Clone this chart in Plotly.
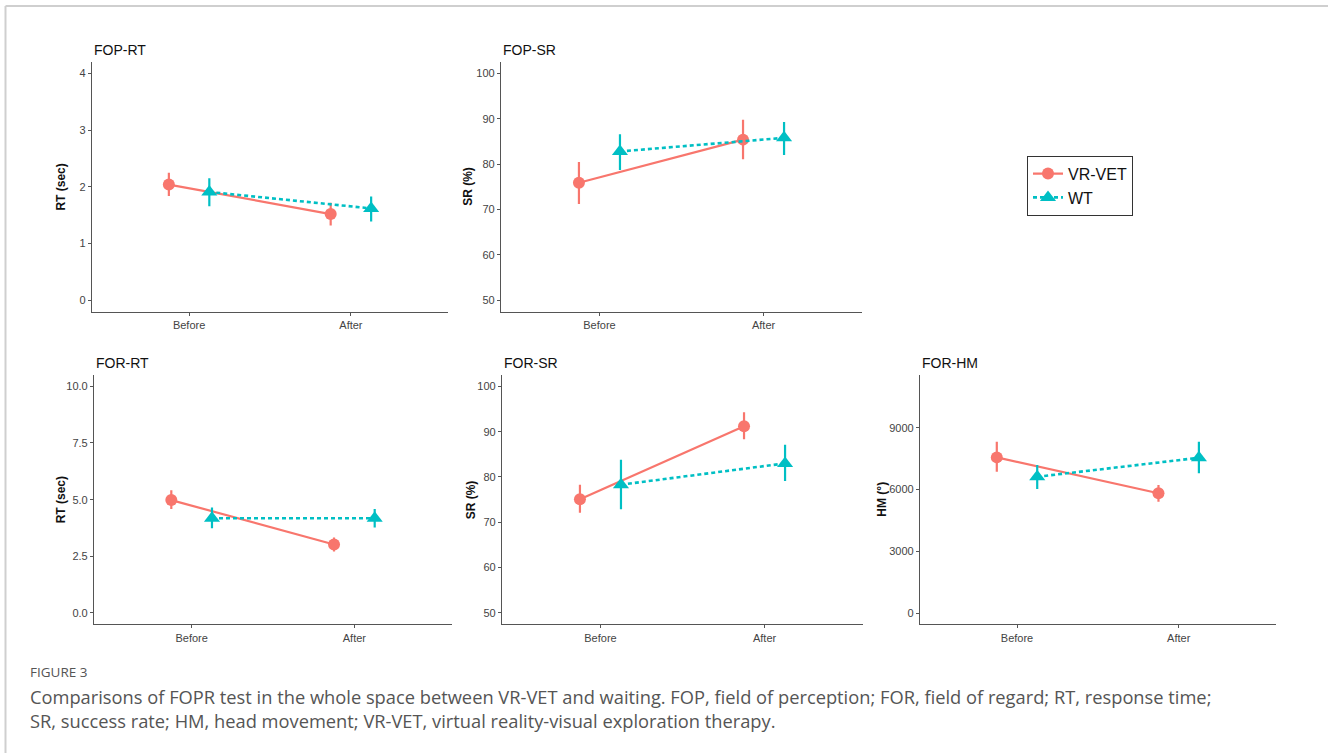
import plotly.graph_objects as go

W, H = 1328, 753

categories = ["Before", "After"]
groups = ["VR-VET", "WT"]
panel_titles = ["FOP-RT", "FOP-SR", "FOR-RT", "FOR-SR", "FOR-HM"]
y_titles = ["RT (sec)", "SR (%)", "RT (sec)", "SR (%)", "HM (°)"]

# FOP-RT
fop_rt_vr = [2.04, 1.52]
fop_rt_vr_hi = [2.25, 1.72]
fop_rt_vr_lo = [1.84, 1.32]
fop_rt_wt = [1.91, 1.62]
fop_rt_wt_hi = [2.15, 1.83]
fop_rt_wt_lo = [1.66, 1.39]
# FOP-SR
fop_sr_vr = [75.9, 85.4]
fop_sr_vr_hi = [80.5, 89.8]
fop_sr_vr_lo = [71.2, 81.1]
fop_sr_wt = [82.8, 85.8]
fop_sr_wt_hi = [86.6, 89.3]
fop_sr_wt_lo = [78.7, 82.0]
# FOR-RT
for_rt_vr = [4.98, 3.02]
for_rt_vr_hi = [5.42, 3.33]
for_rt_vr_lo = [4.59, 2.71]
for_rt_wt = [4.18, 4.18]
for_rt_wt_hi = [4.65, 4.59]
for_rt_wt_lo = [3.74, 3.77]
# FOR-SR
for_sr_vr = [75.1, 91.2]
for_sr_vr_hi = [78.3, 94.3]
for_sr_vr_lo = [72.1, 88.3]
for_sr_wt = [78.3, 83.0]
for_sr_wt_hi = [83.8, 87.1]
for_sr_wt_lo = [72.9, 79.1]
# FOR-HM
for_hm_vr = [7560, 5820]
for_hm_vr_hi = [8320, 6220]
for_hm_vr_lo = [6860, 5410]
for_hm_wt = [6620, 7540]
for_hm_wt_hi = [7190, 8320]
for_hm_wt_lo = [6030, 6790]

y_ticks = [
    [0, 1, 2, 3, 4],
    [50, 60, 70, 80, 90, 100],
    [0, 2.5, 5, 7.5, 10],
    [50, 60, 70, 80, 90, 100],
    [0, 3000, 6000, 9000],
]
y_ticktext = [
    ["0", "1", "2", "3", "4"],
    ["50", "60", "70", "80", "90", "100"],
    ["0.0", "2.5", "5.0", "7.5", "10.0"],
    ["50", "60", "70", "80", "90", "100"],
    ["0", "3000", "6000", "9000"],
]
y_ranges = [[-0.2, 4.2], [47.5, 102.5], [-0.5, 10.5], [47.5, 102.5], [-533, 11554]]

panels = [
    ((fop_rt_vr, fop_rt_vr_hi, fop_rt_vr_lo), (fop_rt_wt, fop_rt_wt_hi, fop_rt_wt_lo)),
    ((fop_sr_vr, fop_sr_vr_hi, fop_sr_vr_lo), (fop_sr_wt, fop_sr_wt_hi, fop_sr_wt_lo)),
    ((for_rt_vr, for_rt_vr_hi, for_rt_vr_lo), (for_rt_wt, for_rt_wt_hi, for_rt_wt_lo)),
    ((for_sr_vr, for_sr_vr_hi, for_sr_vr_lo), (for_sr_wt, for_sr_wt_hi, for_sr_wt_lo)),
    ((for_hm_vr, for_hm_vr_hi, for_hm_vr_lo), (for_hm_wt, for_hm_wt_hi, for_hm_wt_lo)),
]

# pixel boxes of panels: (left, right, top, bottom)
boxes = [
    (92, 448, 62, 311.7),
    (501, 862, 62, 311.7),
    (94, 452, 375, 624.3),
    (502, 863, 375, 624.3),
    (920, 1275.7, 375, 624.3),
]
ytitle_x = [60.7, 468, 60.7, 470.7, 882]
title_y = [50, 50, 363, 363, 363]

RED = "#F8766D"
TEAL = "#00BFC4"
colors = [RED, TEAL]
symbols = ["circle", "triangle-up"]
msizes = [12, 14]
dashes = ["solid", "4px,3px"]
dodge = [-0.125, 0.125]

fig = go.Figure()
layout = dict(
    width=W, height=H,
    margin=dict(l=0, r=0, t=0, b=0),
    paper_bgcolor="white", plot_bgcolor="white",
    font=dict(family="Liberation Sans, Arial, sans-serif", color="#4d4d4d"),
    showlegend=True,
)
annotations = []

for p, (box, data) in enumerate(zip(boxes, panels)):
    l, r, t, b = box
    idx = "" if p == 0 else str(p + 1)
    xa, ya = "x" + idx, "y" + idx
    for g in range(2):
        mean, hi, lo = data[g]
        xs = [i + 1 + dodge[g] for i in range(len(categories))]
        fig.add_trace(go.Scatter(
            x=xs, y=mean, xaxis=xa, yaxis=ya,
            mode="lines+markers",
            name=groups[g], legendgroup=groups[g], showlegend=(p == 0),
            line=dict(color=colors[g], width=2.2 if g == 0 else 2.6, dash=dashes[g]),
            marker=dict(color=colors[g], symbol=symbols[g], size=msizes[g]),
            error_y=dict(type="data", symmetric=False,
                         array=[h - m for h, m in zip(hi, mean)],
                         arrayminus=[m - lo_ for m, lo_ in zip(mean, lo)],
                         width=0, thickness=2.2, color=colors[g]),
            hoverinfo="skip",
        ))
    layout["xaxis" + idx] = dict(
        domain=[l / W, r / W], anchor=ya, range=[0.4, 2.6],
        tickvals=[1, 2], ticktext=categories,
        showline=True, linecolor="#555", linewidth=1.2, mirror=False,
        ticks="outside", ticklen=3, tickcolor="#555", tickwidth=1,
        showgrid=False, zeroline=False,
        tickfont=dict(size=11, color="#444"),
        fixedrange=True,
    )
    layout["yaxis" + idx] = dict(
        domain=[1 - b / H, 1 - t / H], anchor=xa, range=y_ranges[p],
        tickvals=y_ticks[p], ticktext=y_ticktext[p],
        showline=True, linecolor="#555", linewidth=1.2, mirror=False,
        ticks="outside", ticklen=3, tickcolor="#555", tickwidth=1,
        showgrid=False, zeroline=False,
        tickfont=dict(size=11, color="#444"),
        fixedrange=True,
    )
    annotations.append(dict(
        text=panel_titles[p], xref="paper", yref="paper",
        x=l / W, y=1 - title_y[p] / H, xanchor="left", yanchor="middle",
        showarrow=False, font=dict(size=14, color="#111"),
    ))
    annotations.append(dict(
        text="<b>" + y_titles[p] + "</b>", xref="paper", yref="paper",
        x=ytitle_x[p] / W, y=1 - (t + b) / 2 / H, xanchor="center", yanchor="middle",
        textangle=-90, showarrow=False, font=dict(size=12, color="#111"),
    ))

# caption
annotations.append(dict(
    text="FIGURE 3", xref="paper", yref="paper", x=28 / W, y=1 - 671.5 / H,
    xanchor="left", yanchor="middle", showarrow=False,
    font=dict(family="Open Sans, sans-serif", size=13.5, color="#555"),
))
caption_lines = [
    "Comparisons of FOPR test in the whole space between VR-VET and waiting. FOP, field of perception; FOR, field of regard; RT, response time;",
    "SR, success rate; HM, head movement; VR-VET, virtual reality-visual exploration therapy.",
]
for i, line in enumerate(caption_lines):
    annotations.append(dict(
        text=line, xref="paper", yref="paper", x=28 / W, y=1 - (696.5 + 24 * i) / H,
        xanchor="left", yanchor="middle", showarrow=False,
        font=dict(family="Open Sans, sans-serif", size=18.3, color="#555"),
    ))

layout["annotations"] = annotations
layout["shapes"] = [
    dict(type="line", xref="paper", yref="paper", x0=5.5 / W, x1=1.0, y0=1 - 6 / H, y1=1 - 6 / H,
         line=dict(color="#cfcfcf", width=2)),
    dict(type="line", xref="paper", yref="paper", x0=5.5 / W, x1=5.5 / W, y0=1 - 6 / H, y1=0,
         line=dict(color="#cfcfcf", width=2)),
]
layout["legend"] = dict(
    x=1027 / W, y=1 - 155.7 / H, xanchor="left", yanchor="top",
    bordercolor="#333", borderwidth=1, bgcolor="white",
    font=dict(size=16, color="#111"), itemwidth=30, tracegroupgap=0,
)

fig.update_layout(**layout)
fig.write_html(
    "out.html",
    config={"displayModeBar": False},
    post_script="document.body.style.margin='0px';document.body.style.padding='0px';document.body.style.overflow='hidden';",
)
